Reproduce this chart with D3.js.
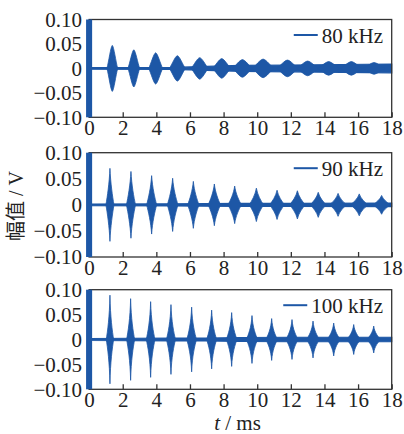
<!DOCTYPE html>
<html>
<head>
<meta charset="utf-8">
<script src="https://cdn.jsdelivr.net/npm/d3@7"></script>
<style>
  body { margin: 0; background: #fff; }
  svg text { font-family: "Liberation Serif", "Times New Roman", Times, "Noto Sans CJK SC", serif; fill: #222; }
</style>
</head>
<body>
<svg id="chart" width="404" height="434"></svg>
<script>
// burst centres (ms), peak amplitude (V), half-width of each burst (ms)
const labels = ["80 kHz", "90 kHz", "100 kHz"]

const times80 = [1.38, 2.66, 3.96, 5.25, 6.58, 7.89, 9.12, 10.35, 11.8, 13.0, 14.25, 15.6, 16.95]
const amps80 = [0.047, 0.038, 0.032, 0.026, 0.022, 0.020, 0.018, 0.019, 0.017, 0.015, 0.014, 0.014, 0.012]
const widths80 = [0.32, 0.35, 0.42, 0.48, 0.52, 0.55, 0.6, 0.65, 0.65, 0.65, 0.65, 0.65, 0.65]

const times90 = [1.24, 2.49, 3.72, 4.97, 6.2, 7.45, 8.66, 9.95, 11.18, 12.39, 13.63, 14.81, 16.07, 17.4]
const amps90 = [0.070, 0.064, 0.056, 0.051, 0.045, 0.040, 0.036, 0.032, 0.028, 0.027, 0.024, 0.022, 0.021, 0.018]
const widths90 = [0.24, 0.27, 0.3, 0.32, 0.34, 0.37, 0.4, 0.43, 0.45, 0.47, 0.48, 0.5, 0.52, 0.52]

const times100 = [1.24, 2.47, 3.66, 4.87, 6.1, 7.29, 8.48, 9.69, 10.86, 12.07, 13.32, 14.55, 15.74, 16.93]
const amps100 = [0.089, 0.082, 0.076, 0.070, 0.065, 0.059, 0.054, 0.048, 0.042, 0.040, 0.037, 0.033, 0.030, 0.027]
const widths100 = [0.22, 0.24, 0.26, 0.27, 0.29, 0.3, 0.32, 0.34, 0.35, 0.37, 0.39, 0.4, 0.42, 0.42]

// noise floor (half band, V) read at a few times
const noiseT = [0, 5, 7, 9, 12, 18]
const noise80 = [0.0015, 0.002, 0.004, 0.006, 0.007, 0.009]
const noise90 = [0.0015, 0.002, 0.0025, 0.003, 0.003, 0.0035]
const noise100 = [0.002, 0.003, 0.003, 0.004, 0.0045, 0.0045]

// excitation pulse at t = 0
const pulseHalfWidth = 0.18

const xTicks = d3.range(0, 19, 2)
const yTicks = [-0.10, -0.05, 0, 0.05, 0.10]

// shape: first control point (offset from base, height), second control point (offset from centre, height)
const panels = [
    {label: labels[0], times: times80, amps: amps80, widths: widths80, noise: noise80, top: 19.5, bottom: 117.3, shape: [0.35, 0.3, 0.3, 0.95]},
    {label: labels[1], times: times90, amps: amps90, widths: widths90, noise: noise90, top: 152.7, bottom: 257, shape: [0.35, 0.22, 0.15, 0.6]},
    {label: labels[2], times: times100, amps: amps100, widths: widths100, noise: noise100, top: 289.7, bottom: 389.3, shape: [0.35, 0.18, 0.12, 0.5]},
]

const blue = "#1d57a6"
const left = 89.1, right = 391.7
const svg = d3.select("#chart")

const x = d3.scaleLinear().domain([0, 18]).range([left, right])
const fmt = d => d === 0 ? "0" : d3.format(".2f")(d)

panels.forEach((p, i) => {
    const y = d3.scaleLinear().domain([-0.1, 0.1]).range([p.bottom, p.top])
    const g = svg.append("g")

    // noise band
    const band = noiseT.map((t, j) => ({t, h: p.noise[j]}))
    g.append("path")
        .datum(band)
        .attr("fill", blue)
        .attr("stroke", blue)
        .attr("stroke-width", 1.2)
        .attr("d", d3.area().x(d => x(d.t)).y0(d => y(-d.h)).y1(d => y(d.h)))

    // bursts as filled envelopes
    const [ax, ay, bx, by] = p.shape
    const bursts = p.times.map((t, j) => ({t, a: p.amps[j], w: p.widths[j]}))
    g.selectAll("path.burst")
        .data(bursts)
        .join("path")
        .attr("class", "burst")
        .attr("fill", blue)
        .attr("stroke", blue)
        .attr("stroke-width", 0.8)
        .attr("d", d => {
            const pth = d3.path()
            const X = u => x(d.t + u * d.w)
            const Y = v => y(v * d.a)
            pth.moveTo(X(-1), Y(0))
            pth.bezierCurveTo(X(-1 + ax), Y(ay), X(-bx), Y(by), X(0), Y(1))
            pth.bezierCurveTo(X(bx), Y(by), X(1 - ax), Y(ay), X(1), Y(0))
            pth.bezierCurveTo(X(1 - ax), Y(-ay), X(bx), Y(-by), X(0), Y(-1))
            pth.bezierCurveTo(X(-bx), Y(-by), X(-1 + ax), Y(-ay), X(-1), Y(0))
            pth.closePath()
            return pth.toString()
        })

    // frame
    g.append("rect")
        .attr("x", left).attr("y", p.top)
        .attr("width", right - left).attr("height", p.bottom - p.top)
        .attr("fill", "none").attr("stroke", "#333").attr("stroke-width", 1.3)

    // x axis with inward ticks
    const xa = g.append("g")
        .attr("transform", `translate(0,${p.bottom})`)
        .call(d3.axisBottom(x).tickValues(xTicks).tickSizeInner(-5).tickSizeOuter(0).tickPadding(3))
    xa.attr("font-family", null)
    xa.select(".domain").remove()
    xa.selectAll("line").attr("stroke", "#333").attr("stroke-width", 1.3)
    xa.selectAll("text").attr("font-size", 21).attr("fill", "#222")

    // y axis
    const ya = g.append("g")
        .attr("transform", `translate(${left},0)`)
        .call(d3.axisLeft(y).tickValues(yTicks).tickFormat(fmt).tickSize(0).tickPadding(7))
    ya.attr("font-family", null)
    ya.select(".domain").remove()
    ya.selectAll("text").attr("font-size", 21).attr("fill", "#222")

    // excitation pulse at t = 0
    g.append("rect")
        .attr("x", x(-pulseHalfWidth)).attr("y", y(0.1))
        .attr("width", x(pulseHalfWidth) - x(-pulseHalfWidth))
        .attr("height", y(-0.1) - y(0.1))
        .attr("fill", blue)

    // legend
    const lt = g.append("text")
        .attr("x", 383).attr("y", p.top + 23.5)
        .attr("text-anchor", "end")
        .attr("font-size", 21)
        .text(p.label)
    const tx = 383 - lt.node().getComputedTextLength()
    g.append("line")
        .attr("x1", tx - 28).attr("x2", tx - 4)
        .attr("y1", p.top + 15.5).attr("y2", p.top + 15.5)
        .attr("stroke", blue).attr("stroke-width", 2)
})

// axis titles
svg.append("text")
    .attr("transform", "translate(23,206) rotate(-90)")
    .attr("text-anchor", "middle")
    .attr("font-size", 20)
    .text("幅值 / V")

const xt = svg.append("text")
    .attr("x", 237.5).attr("y", 430)
    .attr("text-anchor", "middle")
    .attr("font-size", 21)
xt.append("tspan").attr("font-style", "italic").text("t")
xt.append("tspan").text(" / ms")
</script>
</body>
</html>
